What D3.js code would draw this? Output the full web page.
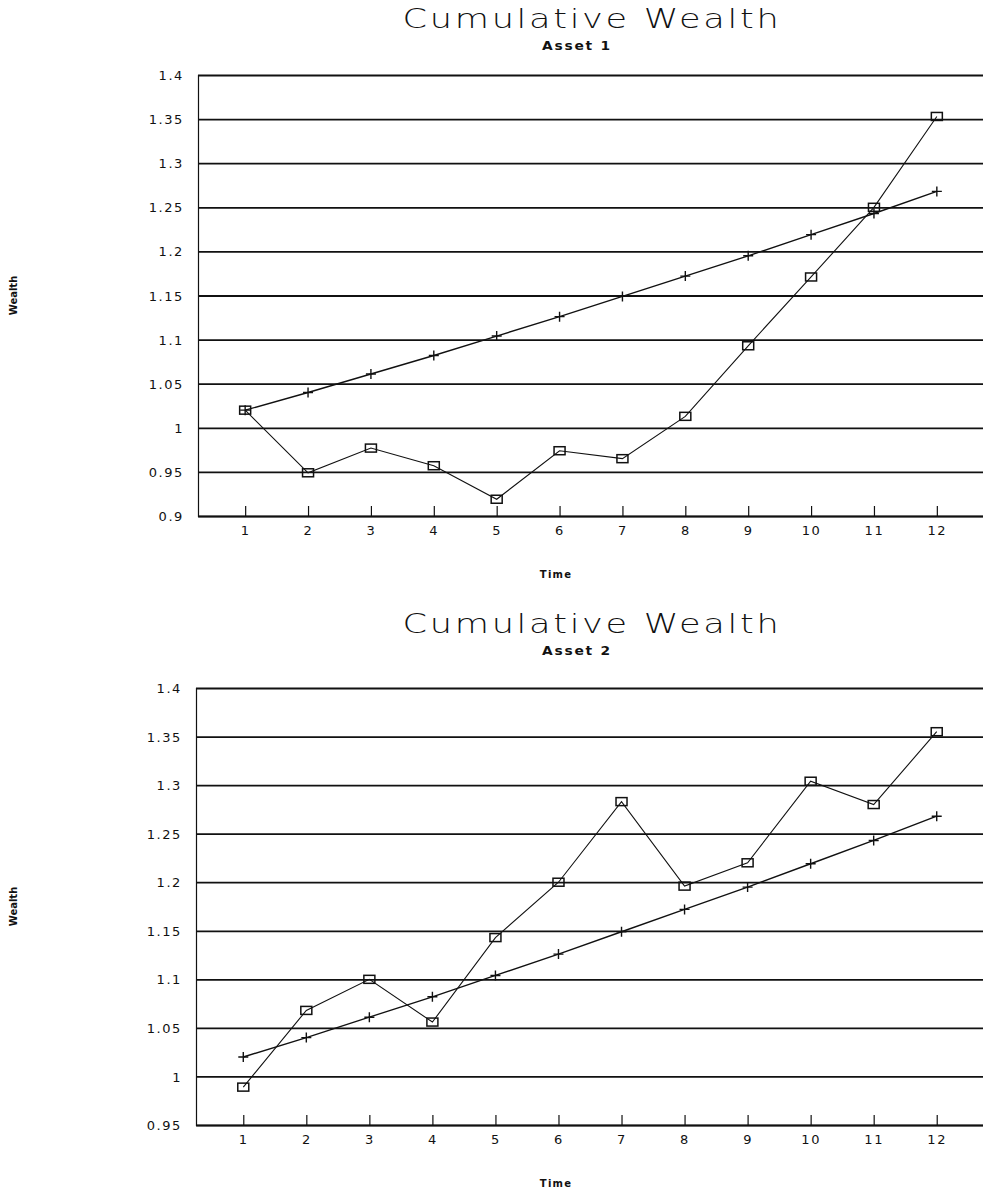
<!DOCTYPE html>
<html>
<head>
<meta charset="utf-8">
<script src="https://cdn.jsdelivr.net/npm/d3@7"></script>
<style>
  html, body { margin: 0; padding: 0; background: #fff; }
  svg { display: block; }
  text { fill: #111; }
</style>
</head>
<body>
<svg id="chart" width="983" height="1190"></svg>
<script>
// Time periods shared by both panels
const periods = [1, 2, 3, 4, 5, 6, 7, 8, 9, 10, 11, 12];

// Steady benchmark path (plus markers), same in both panels
const benchmark = [1.020, 1.040, 1.061, 1.082, 1.104, 1.126, 1.149, 1.172, 1.195, 1.219, 1.243, 1.268];

// Asset paths (square markers)
const asset1 = [1.020, 0.949, 0.977, 0.957, 0.919, 0.974, 0.965, 1.013, 1.093, 1.171, 1.250, 1.353];
const asset2 = [0.989, 1.068, 1.100, 1.056, 1.143, 1.200, 1.283, 1.196, 1.220, 1.304, 1.280, 1.355];

// Axis tick values
const yTicks1 = [0.9, 0.95, 1, 1.05, 1.1, 1.15, 1.2, 1.25, 1.3, 1.35, 1.4];
const yTicks2 = [0.95, 1, 1.05, 1.1, 1.15, 1.2, 1.25, 1.3, 1.35, 1.4];

const svg = d3.select("#chart");
const fmt = d => String(d);

function panel(cfg) {
  const g = svg.append("g");
  const x = d3.scaleLinear().domain([0.25, 12.75]).range([cfg.left, 984]);
  const y = d3.scaleLinear().domain(cfg.yDomain).range([cfg.bottom, cfg.top]);

  // Title (wide, thin lettering) and subtitle
  g.append("text")
    .attr("transform", `translate(592,${cfg.titleY}) scale(1.35,1)`)
    .attr("text-anchor", "middle")
    .attr("font-family", "DejaVu Sans")
    .attr("font-weight", 200)
    .attr("font-size", 26)
    .attr("letter-spacing", 2)
    .text("Cumulative Wealth");
  g.append("text")
    .attr("transform", `translate(577,${cfg.titleY + 22}) scale(1.2,1)`)
    .attr("text-anchor", "middle")
    .attr("font-family", "DejaVu Sans")
    .attr("font-weight", "bold")
    .attr("font-size", 11.5)
    .attr("letter-spacing", 1.5)
    .text(cfg.subtitle);

  // Horizontal grid lines with y labels
  const yAxis = d3.axisLeft(y).tickValues(cfg.yTicks).tickFormat(fmt)
    .tickSize(-(984 - cfg.left)).tickPadding(14);
  const ya = g.append("g").attr("transform", `translate(${cfg.left},0)`).call(yAxis);
  ya.select(".domain").attr("stroke", "#111").attr("stroke-width", 1.2);
  ya.selectAll(".tick line").attr("stroke", "#111").attr("stroke-width", 1.8);
  ya.selectAll(".tick text")
    .attr("font-family", "DejaVu Sans")
    .attr("font-size", 13)
    .attr("letter-spacing", 1.6)
    .attr("dy", "0.35em")
    .attr("fill", "#111");

  // Bottom axis with inward tick marks
  const xAxis = d3.axisBottom(x).tickValues(periods).tickFormat(fmt)
    .tickSizeInner(-10).tickSizeOuter(0).tickPadding(7);
  const xa = g.append("g").attr("transform", `translate(0,${cfg.bottom})`).call(xAxis);
  xa.select(".domain").attr("stroke", "#111").attr("stroke-width", 1.6);
  xa.selectAll(".tick line").attr("stroke", "#111").attr("stroke-width", 1.2);
  xa.selectAll(".tick text")
    .attr("font-family", "DejaVu Sans")
    .attr("font-size", 13)
    .attr("letter-spacing", 1.6)
    .attr("dy", "0.9em")
    .attr("fill", "#111");

  // Axis titles
  g.append("text")
    .attr("transform", `translate(17,${(cfg.top + cfg.bottom) / 2}) rotate(-90)`)
    .attr("text-anchor", "middle")
    .attr("font-family", "DejaVu Sans")
    .attr("font-weight", "bold")
    .attr("font-size", 10)
    .text("Wealth");
  g.append("text")
    .attr("x", 556).attr("y", cfg.bottom + 62)
    .attr("text-anchor", "middle")
    .attr("font-family", "DejaVu Sans")
    .attr("font-weight", "bold")
    .attr("font-size", 10)
    .attr("letter-spacing", 1.2)
    .text("Time");

  const line = d3.line().x((d, i) => x(periods[i])).y(d => y(d));

  // Benchmark line with plus markers
  g.append("path").datum(benchmark)
    .attr("d", line).attr("fill", "none")
    .attr("stroke", "#111").attr("stroke-width", 1.4);
  g.selectAll(".plus").data(benchmark).enter().append("path")
    .attr("transform", (d, i) => `translate(${x(periods[i])},${y(d)})`)
    .attr("d", "M-5,0H5M0,-5V5")
    .attr("stroke", "#111").attr("stroke-width", 1.4);

  // Asset line with square markers
  g.append("path").datum(cfg.series)
    .attr("d", line).attr("fill", "none")
    .attr("stroke", "#111").attr("stroke-width", 1.1);
  g.selectAll(".sq").data(cfg.series).enter().append("rect")
    .attr("x", (d, i) => x(periods[i]) - 5.5)
    .attr("y", d => y(d) - 4)
    .attr("width", 11).attr("height", 8)
    .attr("fill", "none")
    .attr("stroke", "#111").attr("stroke-width", 1.5);
}

panel({ subtitle: "Asset 1", titleY: 28, top: 75, bottom: 516, left: 198,
        yDomain: [0.9, 1.4], yTicks: yTicks1, series: asset1 });
panel({ subtitle: "Asset 2", titleY: 633, top: 688, bottom: 1125, left: 196,
        yDomain: [0.95, 1.4], yTicks: yTicks2, series: asset2 });
</script>
</body>
</html>
